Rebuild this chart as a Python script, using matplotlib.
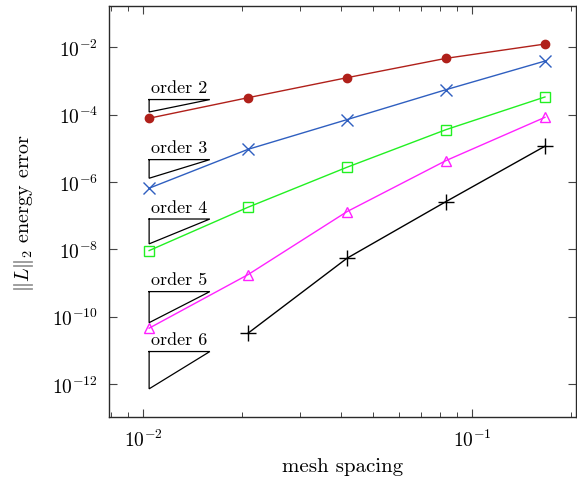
import numpy as np
import matplotlib
matplotlib.use("Agg")
import matplotlib.pyplot as plt
from matplotlib.ticker import LogLocator, LogFormatterSciNotation, NullFormatter, NullLocator

plt.rcParams['font.family'] = ['cmr10', 'DejaVu Serif']
plt.rcParams['mathtext.fontset'] = 'cm'
plt.rcParams['axes.formatter.use_mathtext'] = True

# data
h = [1/96, 1/48, 1/24, 1/12, 1/6]
err_p2 = [7.8e-5, 3.18e-4, 1.25e-3, 4.7e-3, 1.25e-2]
err_p3 = [6.5e-7, 9.3e-6, 7.1e-5, 5.5e-4, 3.9e-3]
err_p4 = [9.1e-9, 1.77e-7, 2.73e-6, 3.57e-5, 3.34e-4]
err_p5 = [4.5e-11, 1.76e-9, 1.31e-7, 4.3e-6, 8.3e-5]
h_p6 = [1/48, 1/24, 1/12, 1/6]
err_p6 = [3.2e-11, 5.4e-9, 2.6e-7, 1.15e-5]

orders = [2, 3, 4, 5, 6]
tri_top = [2.8e-4, 4.6e-6, 7.9e-8, 5.5e-10, 9.1e-12]
tri_x0 = 1/96
tri_factor = 1.53

fig = plt.figure(figsize=(5.77, 4.81), dpi=100)
ax = fig.add_axes([0.1894, 0.130, 0.9983 - 0.1894, 0.9848 - 0.130])
ax.set_xscale('log')
ax.set_yscale('log')

lw = 1.0
ax.plot(h, err_p2, color='#B0201A', lw=lw, marker='o', ms=6, mfc='#B0201A', mec='#B0201A')
ax.plot(h, err_p3, color='#2F5FC0', lw=lw, marker='x', ms=9, mew=1.0)
ax.plot(h, err_p4, color='#22F022', lw=lw, marker='s', ms=7.5, mfc='none', mew=1.0)
ax.plot(h, err_p5, color='#FF22FF', lw=lw, marker='^', ms=7.5, mfc='none', mew=1.0)
ax.plot(h_p6, err_p6, color='black', lw=lw, marker='+', ms=11, mew=1.0)

for p, yt in zip(orders, tri_top):
    x1 = tri_x0 * tri_factor
    yb = yt / tri_factor ** p
    ax.plot([tri_x0, x1, tri_x0, tri_x0], [yt, yt, yb, yt], color='black', lw=0.9,
            solid_joinstyle='miter')
    ax.annotate(f'order {p}', xy=(tri_x0, yt), xytext=(1.5, 5.3), textcoords='offset points',
                ha='left', va='baseline', fontsize=13)

ax.set_xlim(0.00788, 0.2072)
ax.set_ylim(1e-13, 10 ** -0.782)

ax.xaxis.set_major_locator(LogLocator(base=10, numticks=10))
ax.xaxis.set_minor_locator(LogLocator(base=10, subs=np.arange(2, 10), numticks=10))
ax.xaxis.set_minor_formatter(NullFormatter())
ax.set_yticks([1e-2, 1e-4, 1e-6, 1e-8, 1e-10, 1e-12])
ax.yaxis.set_minor_locator(NullLocator())
ax.yaxis.set_major_formatter(LogFormatterSciNotation())

ax.tick_params(which='major', direction='in', length=6, width=0.8, top=True, right=True,
               labelsize=14, colors='#444444', labelcolor='black', pad=8)
ax.tick_params(which='minor', direction='in', length=3.5, width=0.7, top=True, right=True,
               colors='#444444')
for s in ax.spines.values():
    s.set_linewidth(1.0)
    s.set_color('#2a2a2a')

ax.set_xlabel('mesh spacing', fontsize=15, labelpad=5)
ax.set_ylabel(r'$\|L\|_2$ energy error', fontsize=14.5, labelpad=12)

fig.savefig('out.png', dpi=100)
